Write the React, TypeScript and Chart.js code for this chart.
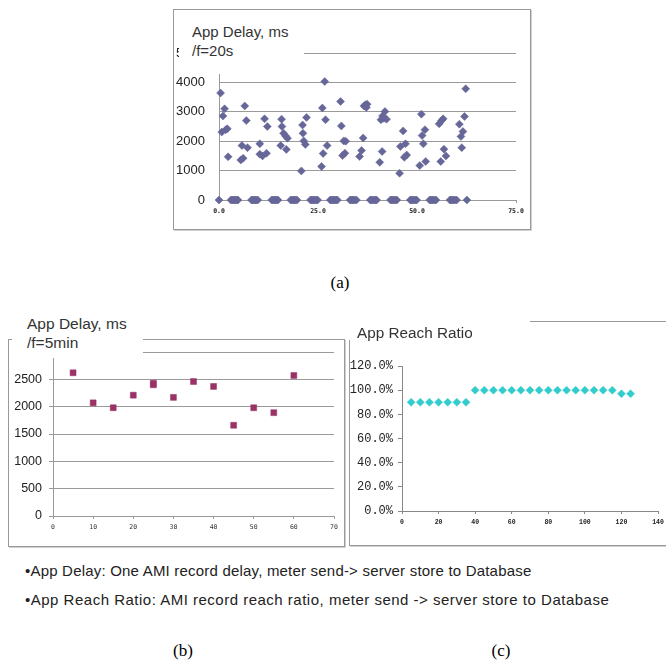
import React, { useEffect, useRef } from 'react';
import { Chart, registerables } from 'chart.js';
Chart.register(...registerables);

// ---------- (a) App Delay, f = 20s ----------
const delay20sTimes = [
  0.4, 0.7, 1.0, 1.4, 1.7, 2.1, 2.3,
  5.5, 5.8, 6.1, 6.5, 6.9, 7.2,
  10.3, 10.3, 11.0, 11.5, 12.0, 12.2,
  15.6, 15.8, 15.9, 16.3, 16.8, 17.0, 17.3,
  20.8, 21.1, 21.2, 21.4, 21.8, 22.1,
  25.9, 26.1, 26.3, 26.7, 26.9, 27.3,
  30.7, 30.9, 31.2, 31.5, 31.8, 32.0,
  35.5, 36.0, 36.4, 36.6, 37.0, 37.2, 37.4,
  40.6, 40.9, 41.2, 41.3, 41.6, 41.9, 42.3,
  45.6, 45.8, 46.5, 46.8, 47.1, 47.4,
  50.7, 51.1, 51.3, 51.6, 52.0, 52.2,
  55.6, 56.0, 56.2, 56.6, 56.8, 57.3,
  60.7, 61.1, 61.3, 61.6, 62.0, 62.3,
];
const delay20sValues = [
  3640, 2310, 2860, 3100, 2390, 2420, 1470,
  1360, 1850, 1420, 3200, 2700, 1780,
  1910, 1560, 1500, 2760, 1590, 2500,
  1850, 2750, 2500, 2270, 2180, 1720, 2100,
  990, 2550, 2270, 2010, 1890, 2810,
  1140, 3130, 1580, 4030, 2730, 1850,
  3350, 2520, 1510, 2010, 1590, 2000,
  1480, 1680, 2110, 3200, 3240, 3150, 3260,
  1280, 2730, 1650, 2860, 2780, 3010, 2750,
  910, 1820, 2350, 1450, 1910, 1530,
  1170, 2920, 2190, 1910, 2390, 1310,
  2590, 1310, 2700, 2760, 1730, 1500,
  2580, 2160, 1780, 2330, 2840, 3780,
];
// samples whose delay reads 0 ms
const zeroDelayTimes = [
  0.0,
  3.0, 3.3, 3.6, 3.9, 4.2, 4.5, 4.8,
  8.2, 8.5, 8.8, 9.1, 9.4, 9.8,
  13.3, 13.6, 13.9, 14.2, 14.5, 14.9,
  18.1, 18.4, 18.7, 19.0, 19.3, 19.7,
  23.1, 23.4, 23.7, 24.0, 24.3, 24.6, 24.9,
  28.1, 28.4, 28.7, 29.0, 29.3, 29.6, 29.9,
  33.1, 33.4, 33.7, 34.0, 34.3, 34.7,
  38.2, 38.5, 38.8, 39.2, 39.5, 39.8,
  43.3, 43.6, 43.9, 44.2, 44.6, 44.9,
  48.3, 48.6, 48.9, 49.2, 49.6, 49.9,
  53.2, 53.5, 53.8, 54.1, 54.5, 54.8,
  58.3, 58.6, 58.9, 59.3, 59.6, 60.0,
  62.6,
];
const delay20sXTicks = [0, 75, 25];
const delay20sYTicks = [0, 5000, 1000];

// ---------- (b) App Delay, f = 5min ----------
const delay5minTimes = [5, 10, 15, 20, 25, 25, 30, 35, 40, 45, 50, 55, 60];
const delay5minValues = [2620, 2070, 1980, 2210, 2400, 2430, 2170, 2460, 2370, 1660, 1980, 1890, 2570];
const delay5minXTicks = [0, 70, 10];
const delay5minYTicks = [0, 3000, 500];

// ---------- (c) App Reach Ratio ----------
const reachTimes = [5, 10, 15, 20, 25, 30, 35, 40, 45, 50, 55, 60, 65, 70, 75, 80, 85, 90, 95, 100, 105, 110, 115, 120, 125];
const reachPercent = [90, 90, 90, 90, 90, 90, 90, 100, 100, 100, 100, 100, 100, 100, 100, 100, 100, 100, 100, 100, 100, 100, 100, 97, 97];
const reachXTicks = [0, 140, 20];
const reachYTicks = [0, 120, 20];

const GRID = '#9a9a9a';
const SANS = '"Liberation Sans", Arial, sans-serif';

function fixY(w: number) {
  return (s: any) => { s.width = w; s.paddingTop = 0; s.paddingBottom = 0; };
}
function fixX(h: number) {
  return (s: any) => { s.height = h; s.paddingLeft = 0; s.paddingRight = 0; };
}

function ChartCanvas({ left, top, width, height, make }: any) {
  const ref = useRef<HTMLCanvasElement>(null);
  useEffect(() => {
    const c = new Chart(ref.current as HTMLCanvasElement, make());
    return () => c.destroy();
  }, []);
  return (
    <canvas ref={ref} width={width} height={height}
      style={{ position: 'absolute', left, top, width, height }} />
  );
}

function baseOpts(pad: any) {
  return {
    animation: false,
    responsive: false,
    maintainAspectRatio: false,
    devicePixelRatio: 1,
    events: [],
    layout: { padding: pad, autoPadding: false },
    plugins: { legend: { display: false }, tooltip: { enabled: false }, title: { display: false } },
  } as any;
}

function makeA() {
  const pts = delay20sTimes.map((x, i) => ({ x, y: delay20sValues[i] }))
    .concat(zeroDelayTimes.map((x) => ({ x, y: 0 })));
  return {
    type: 'scatter',
    data: {
      datasets: [{
        data: pts, showLine: false, clip: false,
        pointStyle: 'rectRot', pointRadius: 4, pointBorderWidth: 0.5,
        pointBackgroundColor: '#666699', pointBorderColor: '#666699',
      }],
    },
    options: {
      ...baseOpts({ left: 0, top: 43, right: 14, bottom: 8 }),
      scales: {
        x: {
          type: 'linear', min: delay20sXTicks[0], max: delay20sXTicks[1],
          ticks: { stepSize: delay20sXTicks[2], padding: 4, maxRotation: 0, color: '#222',
            font: { family: '"DejaVu Sans Mono", monospace', size: 6.5, weight: 'bold' },
            callback: (v: any) => Number(v).toFixed(1) },
          grid: { drawOnChartArea: false, drawTicks: true, tickLength: 3, color: GRID },
          border: { display: true, color: GRID, width: 1 },
          afterFit: fixX(20),
        },
        y: {
          type: 'linear', min: delay20sYTicks[0], max: delay20sYTicks[1],
          ticks: { stepSize: delay20sYTicks[2], padding: 14, color: '#222',
            font: { family: SANS, size: 13 }, callback: (v: any) => String(v) },
          grid: { color: GRID, drawTicks: false },
          border: { display: true, color: GRID, width: 1 },
          afterFit: fixY(45),
        },
      },
    },
  } as any;
}

function makeB() {
  const pts = delay5minTimes.map((x, i) => ({ x, y: delay5minValues[i] }));
  return {
    type: 'scatter',
    data: {
      datasets: [{
        data: pts, showLine: false, clip: false,
        pointStyle: 'rect', pointRadius: 4.2, pointBorderWidth: 0.5,
        pointBackgroundColor: '#993366', pointBorderColor: '#993366',
      }],
    },
    options: {
      ...baseOpts({ left: 0, top: 12, right: 10, bottom: 10 }),
      scales: {
        x: {
          type: 'linear', min: delay5minXTicks[0], max: delay5minXTicks[1],
          ticks: { stepSize: delay5minXTicks[2], padding: 4, maxRotation: 0, color: '#333',
            font: { family: '"DejaVu Sans Mono", monospace', size: 6.5 },
            callback: (v: any) => String(v) },
          grid: { drawOnChartArea: false, drawTicks: true, tickLength: 3, color: GRID },
          border: { display: true, color: GRID, width: 1 },
          afterFit: fixX(20),
        },
        y: {
          type: 'linear', min: delay5minYTicks[0], max: delay5minYTicks[1],
          ticks: { stepSize: delay5minYTicks[2], padding: 7, color: '#222',
            font: { family: SANS, size: 12.5 }, callback: (v: any) => String(v) },
          grid: { color: GRID, drawTicks: true, tickLength: 4 },
          border: { display: true, color: GRID, width: 1 },
          afterFit: fixY(44),
        },
      },
    },
  } as any;
}

function makeC() {
  const pts = reachTimes.map((x, i) => ({ x, y: reachPercent[i] }));
  return {
    type: 'scatter',
    data: {
      datasets: [{
        data: pts, showLine: false, clip: false,
        pointStyle: 'rectRot', pointRadius: 4, pointBorderWidth: 0.5,
        pointBackgroundColor: '#33CCCC', pointBorderColor: '#33CCCC',
      }],
    },
    options: {
      ...baseOpts({ left: 0, top: 44, right: 8, bottom: 14 }),
      scales: {
        x: {
          type: 'linear', min: reachXTicks[0], max: reachXTicks[1],
          ticks: { stepSize: reachXTicks[2], padding: 4, maxRotation: 0, color: '#222',
            font: { family: '"Liberation Mono", monospace', size: 6.5, weight: 'bold' },
            callback: (v: any) => String(v) },
          grid: { drawOnChartArea: false, drawTicks: true, tickLength: 3, color: '#888' },
          border: { display: true, color: '#888', width: 1 },
          afterFit: fixX(20),
        },
        y: {
          type: 'linear', min: reachYTicks[0], max: reachYTicks[1],
          ticks: { stepSize: reachYTicks[2], padding: 5, color: '#222',
            font: { family: '"Liberation Mono", monospace', size: 12 },
            callback: (v: any) => Number(v).toFixed(1) + '%' },
          grid: { drawOnChartArea: false, drawTicks: true, tickLength: 4, color: '#888' },
          border: { display: true, color: '#888', width: 1 },
          afterFit: fixY(52),
        },
      },
    },
  } as any;
}

function Box({ left, top, width, height }: any) {
  return <div style={{ position: 'absolute', left, top, width, height, boxSizing: 'border-box',
    border: '1px solid #999', boxShadow: '1px 1px 0 #d0d0d0' }} />;
}
function White({ left, top, width, height }: any) {
  return <div style={{ position: 'absolute', left, top, width, height, background: '#fff' }} />;
}
function Txt({ x, cy, size, family = SANS, color = '#222', center = false, ls = 0, children }: any) {
  return (
    <div style={{ position: 'absolute', left: x, top: cy - size * 0.6, fontSize: size,
      lineHeight: `${size * 1.2}px`, fontFamily: family, color, whiteSpace: 'nowrap',
      letterSpacing: ls ? `${ls}px` : undefined,
      transform: center ? 'translateX(-50%)' : undefined }}>{children}</div>
  );
}

export default function App() {
  const SERIF = '"Liberation Serif", "Times New Roman", serif';
  return (
    <div style={{ position: 'absolute', left: 0, top: 0, width: 666, height: 662, overflow: 'hidden', background: '#fff' }}>
      {/* (a) */}
      <Box left={173} top={9} width={358} height={221} />
      <ChartCanvas left={174} top={10} width={356} height={218} make={makeA} />
      <White left={179} top={14} width={125} height={60} />
      <Txt x={192} cy={32} size={15} color="#333">App Delay, ms</Txt>
      <Txt x={192} cy={51} size={15} color="#333">/f=20s</Txt>
      <Txt x={340} cy={283} size={17} family={SERIF} color="#000" center>(a)</Txt>

      {/* (b) */}
      <Box left={8} top={339} width={337} height={208} />
      <ChartCanvas left={9} top={340} width={335} height={206} make={makeB} />
      <White left={12} top={305} width={131} height={53} />
      <Txt x={27} cy={324} size={15.5} color="#333">App Delay, ms</Txt>
      <Txt x={27} cy={343} size={15.5} color="#333">/f=5min</Txt>

      {/* (c) */}
      <Box left={349} top={321} width={330} height={225} />
      <ChartCanvas left={350} top={322} width={316} height={223} make={makeC} />
      <White left={346} top={305} width={184} height={35} />
      <Txt x={357} cy={333} size={15.3} color="#333">App Reach Ratio</Txt>

      {/* notes */}
      <Txt x={25} cy={571} size={15} ls={0.2} color="#222">•App Delay: One AMI record delay, meter send-&gt; server store to Database</Txt>
      <Txt x={25} cy={600} size={15} ls={0.5} color="#222">•App Reach Ratio: AMI record reach ratio, meter send -&gt; server store to Database</Txt>
      <Txt x={183} cy={651} size={17} family={SERIF} color="#000" center>(b)</Txt>
      <Txt x={501} cy={651} size={17} family={SERIF} color="#000" center>(c)</Txt>
    </div>
  );
}
